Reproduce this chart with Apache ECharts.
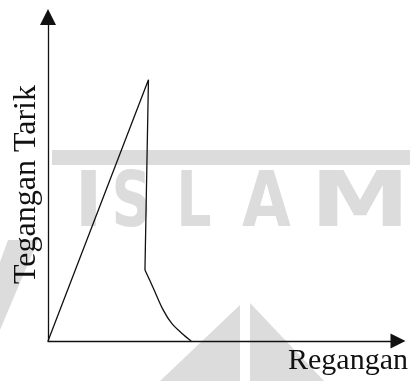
<!DOCTYPE html>
<html>
<head>
<meta charset="utf-8">
<script src="https://cdn.jsdelivr.net/npm/echarts@6/dist/echarts.min.js"></script>
<style>
  html, body { margin: 0; padding: 0; background: #fff; }
  #chart { width: 410px; height: 381px; }
</style>
</head>
<body>
<div id="chart"></div>
<script>
// regangan (x) dan tegangan tarik (y)
var regangan = [0, 2.87, 2.77, 3.01, 3.29, 3.53, 3.82, 4.09];
var tegangan = [0, 8.06, 2.19, 1.63, 0.96, 0.55, 0.24, 0];
var xName = 'Regangan';
var yName = 'Tegangan Tarik';

var ink = '#111';
var wm = '#dcdcdc'; // warna watermark

var points = regangan.map(function (x, i) { return [x, tegangan[i]]; });
var naik = points.slice(0, 3);   // naik lurus lalu jatuh tegak
var ekor = points.slice(2);      // ekor melengkung

function wmLetter(ch, x, sx) {
  return {
    type: 'text', x: x, y: 206, scaleX: sx, scaleY: 1, z: -5, silent: true,
    style: { text: ch, font: 'bold 77px "DejaVu Sans"', fill: wm, align: 'center', verticalAlign: 'middle' }
  };
}

var chart = echarts.init(document.getElementById('chart'));

var option = {
  backgroundColor: '#fff',
  animation: false,
  grid: { left: 48, right: 12, top: 17, bottom: 40 },
  xAxis: {
    type: 'value', min: 0, max: 10,
    axisLine: { show: true, symbol: ['none', 'triangle'], symbolSize: [15, 15], lineStyle: { color: ink, width: 1.3 } },
    axisTick: { show: false },
    axisLabel: { show: false },
    splitLine: { show: false }
  },
  yAxis: {
    type: 'value', min: 0, max: 10,
    axisLine: { show: true, symbol: ['none', 'triangle'], symbolSize: [16, 16], lineStyle: { color: ink, width: 1.3 } },
    axisTick: { show: false },
    axisLabel: { show: false },
    splitLine: { show: false }
  },
  series: [{
    type: 'line',
    data: naik,
    symbol: 'none',
    smooth: false,
    lineStyle: { color: ink, width: 1.3 }
  }, {
    type: 'line',
    data: ekor,
    symbol: 'none',
    smooth: 0.35,
    lineStyle: { color: ink, width: 1.3 }
  }],
  graphic: [
    // watermark latar
    { type: 'rect', z: -5, silent: true, shape: { x: 52, y: 150, width: 358, height: 15 }, style: { fill: wm } },
    wmLetter('I', 88.5, 1.0),
    wmLetter('S', 131.5, 0.72),
    wmLetter('L', 194, 0.72),
    wmLetter('A', 266.5, 0.82),
    wmLetter('M', 360, 1.3),
    { type: 'polygon', z: -5, silent: true, shape: { points: [[160, 381], [240, 305], [240, 381]] }, style: { fill: wm } },
    { type: 'polygon', z: -5, silent: true, shape: { points: [[250, 303], [250, 381], [324, 381]] }, style: { fill: wm } },
    { type: 'polygon', z: -5, silent: true, shape: { points: [[8, 240], [38, 240], [0, 330], [0, 262]] }, style: { fill: wm } },
    // judul sumbu
    {
      type: 'text', x: 27, y: 184.5, rotation: Math.PI / 2, z: 10,
      style: { text: yName, font: '32px "Liberation Serif"', fill: ink, align: 'center', verticalAlign: 'middle' }
    },
    {
      type: 'text', x: 408, y: 361, z: 10,
      style: { text: xName, font: '30px "Liberation Serif"', fill: ink, align: 'right', verticalAlign: 'middle' }
    }
  ]
};

chart.setOption(option);
</script>
</body>
</html>
